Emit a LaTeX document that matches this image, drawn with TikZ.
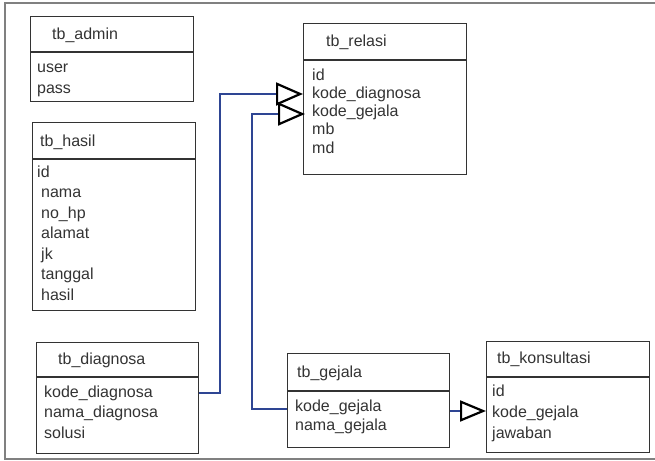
\documentclass[tikz,border=0pt]{standalone}
\usepackage{fontspec}
\setmainfont{Liberation Sans}
\usetikzlibrary{arrows.meta}
\definecolor{linkblue}{HTML}{2E4593}
\definecolor{ink}{HTML}{333333}
\begin{document}
\begin{tikzpicture}[x=1pt,y=-1pt,
    tbl/.style={draw=ink,line width=1.1pt,anchor=north west,inner sep=0pt},
    title/.style={anchor=base west,inner sep=0pt,text=ink,font=\fontsize{16}{19}\selectfont},
    field/.style={anchor=base west,inner sep=0pt,text=ink,font=\fontsize{16}{19}\selectfont},
    link/.style={draw=linkblue,line width=2pt,-{Triangle[open,length=27pt,width=23pt,black,line width=2.2pt]}}]
\useasboundingbox (0,0) rectangle (655,460);
\draw[gray,line width=1.6pt] (656,3) -- (5,3) -- (5,459) -- (656,459);
% tables: header and body
\foreach \n/\x/\y/\w/\h/\b in {admin/30/16/163/35/49,hasil/32/122/163/36/151,relasi/303/23/163/36/114,
    diagnosa/36/342/162/34/76,gejala/287/353/162/37/56,konsultasi/486/341/163/35/75} {
  \node[tbl,minimum width=\w pt,minimum height=\h pt] (\n) at (\x,\y) {};
  \node[tbl,minimum width=\w pt,minimum height=\b pt] (\n-b) at (\n.south west) {};
}
\node[title] (admin-t) at (52,40) {tb\_admin};
\node[title] (hasil-t) at (40,146) {tb\_hasil};
\node[title] (relasi-t) at (326,47) {tb\_relasi};
\node[title] (diagnosa-t) at (58,364) {tb\_diagnosa};
\node[title] (gejala-t) at (297,377) {tb\_gejala};
\node[title] (konsultasi-t) at (497,363) {tb\_konsultasi};
% fields
\foreach \t [count=\k] in {user,pass} \node[field] (admin-\k) at (37,72+21*\k-21) {\t};
\node[field] (hasil-1) at (37,177) {id};
\foreach \t [count=\k from 2] in {nama,no\_hp,alamat,jk,tanggal,hasil}
  \node[field] (hasil-\k) at (41,177+20.5*\k-20.5) {\t};
\foreach \t [count=\k] in {id,kode\_diagnosa,kode\_gejala,mb,md}
  \node[field] (relasi-\k) at (312,80+18.3*\k-18.3) {\t};
\foreach \t [count=\k] in {kode\_diagnosa,nama\_diagnosa,solusi}
  \node[field] (diagnosa-\k) at (44,397+20.5*\k-20.5) {\t};
\foreach \t [count=\k] in {kode\_gejala,nama\_gejala}
  \node[field] (gejala-\k) at (295,411+19*\k-19) {\t};
\foreach \t [count=\k] in {id,kode\_gejala,jawaban}
  \node[field] (konsultasi-\k) at (492,396+21*\k-21) {\t};
% relations
\draw[link] (diagnosa-b.east |- 0,393) -| (220,94) -- (relasi-b.west |- 0,94);
\draw[link] (gejala-b.west |- 0,409) -| (252,114) -- ([xshift=2pt]relasi-b.west |- 0,114);
\draw[link,-{Triangle[open,length=26pt,width=21pt,black,line width=2.2pt]}] (gejala-b.east |- 0,411) -- (konsultasi-b.west |- 0,411);
\end{tikzpicture}
\end{document}
